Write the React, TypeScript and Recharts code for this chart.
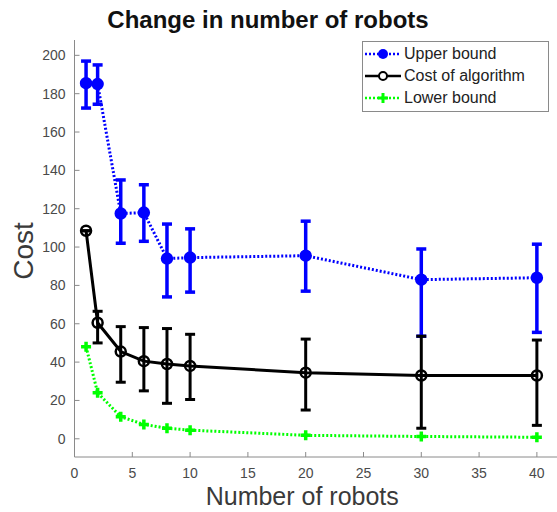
import React from "react";
import { ErrorBar, Label, Legend, Line, LineChart, XAxis, YAxis } from "recharts";

// robots in the team
const robots = [1, 2, 4, 6, 8, 10, 20, 30, 40];

// upper bound: mean and spread
const upperMean = [185.5, 185, 117.5, 118, 94, 94.5, 95.5, 83, 84];
const upperLow = [172.5, 174.5, 102, 103, 74, 76.5, 77, 53.5, 55.5];
const upperHigh = [197, 195, 135, 132.5, 112, 109.5, 113.5, 99, 101.5];

// cost of the algorithm: mean and spread
const costMean = [108.5, 60.5, 45.5, 40.5, 39, 38, 34.5, 33, 33];
const costLow = [108.5, 50, 29.5, 25, 18.5, 20.5, 15, 5.5, 7];
const costHigh = [108.5, 66.5, 58.5, 58, 57.5, 54.5, 52, 53.5, 51.5];

// lower bound
const lowerMean = [48, 24, 11.5, 7.5, 5.5, 4.5, 1.8, 1.2, 0.8];

const xTicks = [0, 5, 10, 15, 20, 25, 30, 35, 40];
const yTicks = [0, 20, 40, 60, 80, 100, 120, 140, 160, 180, 200];

const data = robots.map((n, i) => ({
  robots: n,
  upper: upperMean[i],
  upperErr: [upperMean[i] - upperLow[i], upperHigh[i] - upperMean[i]],
  cost: costMean[i],
  costErr: [costMean[i] - costLow[i], costHigh[i] - costMean[i]],
  lower: lowerMean[i],
}));

const BLUE = "#0000ff";
const GREEN = "#00ff00";
const BLACK = "#000000";
const AXIS = "#8a8a8a";
const TEXT = "#4a4a4a";
const FONT = "'Liberation Sans', Arial, sans-serif";

const BottomTick = ({ x, y, payload }: any) => (
  <g>
    <line x1={x} x2={x} y1={y} y2={y - 5} stroke={AXIS} />
    <text x={x} y={y + 21} textAnchor="middle" fontSize={14} fill={TEXT} fontFamily={FONT}>
      {payload.value}
    </text>
  </g>
);

const TopTick = ({ x, y }: any) => <line x1={x} x2={x} y1={y} y2={y + 5} stroke={AXIS} />;

const LeftTick = ({ x, y, payload }: any) => (
  <g>
    <line x1={x} x2={x + 5} y1={y} y2={y} stroke={AXIS} />
    <text x={x - 9} y={y + 5} textAnchor="end" fontSize={14} fill={TEXT} fontFamily={FONT}>
      {payload.value}
    </text>
  </g>
);

const RightTick = ({ x, y }: any) => <line x1={x} x2={x - 5} y1={y} y2={y} stroke={AXIS} />;

const circleDot = (fill: string, stroke: string) => (p: any) => (
  <circle key={`c-${p.index}`} cx={p.cx} cy={p.cy} r={5} fill={fill} stroke={stroke} strokeWidth={2.5} />
);

const plusDot = (p: any) => (
  <path
    key={`p-${p.index}`}
    d={`M${p.cx - 5},${p.cy}H${p.cx + 5}M${p.cx},${p.cy - 5}V${p.cy + 5}`}
    stroke={GREEN}
    strokeWidth={3.5}
    fill="none"
  />
);

const legendRows = [
  { name: "Upper bound", color: BLUE, dash: "2 2", marker: "filled" },
  { name: "Cost of algorithm", color: BLACK, dash: undefined, marker: "open" },
  { name: "Lower bound", color: GREEN, dash: "2 2", marker: "plus" },
];

const LegendBox = () => (
  <div
    style={{
      width: 185,
      height: 68,
      border: `1px solid ${AXIS}`,
      background: "#fff",
      paddingTop: 1,
      boxSizing: "content-box",
      fontFamily: FONT,
    }}
  >
    {legendRows.map((r) => (
      <div key={r.name} style={{ display: "flex", alignItems: "center", height: 22 }}>
        <svg width={40} height={22}>
          <line x1={2} x2={38} y1={11} y2={11} stroke={r.color} strokeWidth={2.5} strokeDasharray={r.dash} />
          {r.marker === "filled" && <circle cx={20} cy={11} r={5} fill={r.color} />}
          {r.marker === "open" && <circle cx={20} cy={11} r={4} fill="#fff" stroke={r.color} strokeWidth={2} />}
          {r.marker === "plus" && (
            <path d="M15,11H25M20,6V16" stroke={r.color} strokeWidth={3} />
          )}
        </svg>
        <span style={{ fontSize: 16, color: "#222", marginLeft: 1 }}>{r.name}</span>
      </div>
    ))}
  </div>
);

export default function App() {
  return (
    <div
      style={{
        position: "absolute",
        left: 0,
        top: 0,
        width: 557,
        height: 512,
        overflow: "hidden",
        background: "#fff",
        fontFamily: FONT,
      }}
    >
      <div
        style={{
          position: "absolute",
          left: 0,
          top: 6,
          width: 536,
          textAlign: "center",
          fontWeight: "bold",
          fontSize: 24,
          color: "#111",
        }}
      >
        Change in number of robots
      </div>
      <LineChart width={565} height={512} data={data} margin={{ top: 40, right: 5, bottom: 0, left: 0 }}>
        <XAxis
          dataKey="robots"
          type="number"
          domain={[0, 42]}
          ticks={xTicks}
          interval={0}
          height={55}
          tickSize={0}
          tickMargin={0}
          tickLine={false}
          stroke={AXIS}
          tick={<BottomTick />}
        >
          <Label
            content={(p: any) => (
              <text
                x={p.viewBox.x + p.viewBox.width / 2 - 15}
                y={p.viewBox.y + 48}
                textAnchor="middle"
                fontSize={25}
                fill="#3a3a3a"
                fontFamily={FONT}
              >
                Number of robots
              </text>
            )}
          />
        </XAxis>
        <XAxis
          xAxisId="top"
          orientation="top"
          type="number"
          domain={[0, 42]}
          ticks={xTicks}
          interval={0}
          height={0}
          tickSize={0}
          tickMargin={0}
          tickLine={false}
          stroke={AXIS}
          tick={<TopTick />}
        />
        <YAxis
          type="number"
          domain={[-9.5, 208]}
          ticks={yTicks}
          interval={0}
          allowDataOverflow
          width={74.5}
          tickSize={0}
          tickMargin={0}
          tickLine={false}
          stroke={AXIS}
          tick={<LeftTick />}
        >
          <Label
            content={() => (
              <text
                x={33}
                y={251}
                transform="rotate(-90 33 251)"
                textAnchor="middle"
                fontSize={28}
                fill="#3a3a3a"
                fontFamily={FONT}
              >
                Cost
              </text>
            )}
          />
        </YAxis>
        <YAxis
          yAxisId="right"
          orientation="right"
          type="number"
          domain={[-9.5, 208]}
          ticks={yTicks}
          interval={0}
          allowDataOverflow
          width={0}
          tickSize={0}
          tickMargin={0}
          tickLine={false}
          stroke={AXIS}
          tick={<RightTick />}
        />
        <Legend
          layout="vertical"
          align="center"
          verticalAlign="middle"
          wrapperStyle={{ left: 362, top: 41, width: "auto" }}
          content={() => <LegendBox />}
        />
        <Line
          dataKey="upper"
          stroke={BLUE}
          strokeWidth={3}
          strokeDasharray="2 2"
          dot={circleDot(BLUE, BLUE)}
          isAnimationActive={false}
        >
          <ErrorBar dataKey="upperErr" stroke={BLUE} strokeWidth={3.5} width={5} isAnimationActive={false} />
        </Line>
        <Line
          dataKey="cost"
          stroke={BLACK}
          strokeWidth={3}
          dot={circleDot("none", BLACK)}
          isAnimationActive={false}
        >
          <ErrorBar dataKey="costErr" stroke={BLACK} strokeWidth={3} width={5} isAnimationActive={false} />
        </Line>
        <Line
          dataKey="lower"
          stroke={GREEN}
          strokeWidth={3}
          strokeDasharray="2 2"
          dot={plusDot}
          isAnimationActive={false}
        />
      </LineChart>
    </div>
  );
}
